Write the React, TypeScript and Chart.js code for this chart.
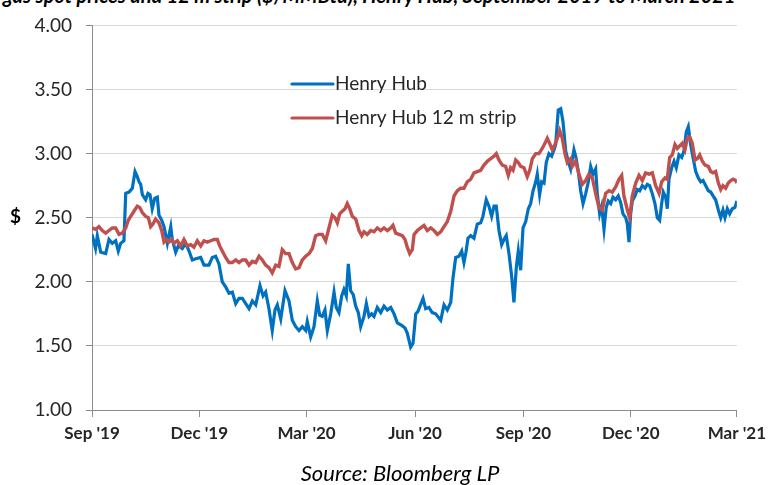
import React, { useEffect, useRef } from "react";
import { Chart, registerables } from "chart.js";

Chart.register(...registerables);

// ---- data (x = days since 1 Sep 2019) ----
const xTickDays = [0, 91, 182, 274, 366, 457, 547];
const xTickLabels = ["Sep '19", "Dec '19", "Mar '20", "Jun '20", "Sep '20", "Dec '20", "Mar '21"];
const yMin = 1.0;
const yMax = 4.0;
const yStep = 0.5;
const seriesNames = ["Henry Hub", "Henry Hub 12 m strip"];
const seriesColors = ["#0070C0", "#C0504D"];

const hubDays = [
  0, 3, 4.5, 7.4, 11.6, 14.4, 17.2, 20.1, 22.3, 24.3, 27.1, 28.6, 31.4, 34.2, 36.5, 38.4, 39.9, 41.3, 42.7, 45.5,
  47.5, 49.2, 51.1, 53.2, 55.4, 56.8, 59.1, 61.1, 63.9, 66.8, 68.1, 71, 73.2, 76.6, 79.5, 82.3, 85.1, 88, 92.2, 95,
  99.2, 102, 104.9, 107.7, 110.5, 113.4, 116.2, 119, 121.9, 124.7, 127.5, 130.4, 133.2, 136, 138.9, 142.5, 145.1,
  147.3, 150.1, 152.9, 155.2, 157.2, 160.1, 163.7, 167.1, 169.9, 172.8, 175.6, 178.4, 181.3, 182.6, 185.5, 188.3,
  191.1, 193.1, 195.3, 197.6, 199.6, 202.5, 205.3, 207.2, 209.5, 211.8, 213.7, 215.7, 217.4, 219.4, 221.6, 223.7,
  225.9, 227.9, 230.7, 232.7, 235, 237.2, 239.2, 242, 244.9, 247.7, 250.5, 253.4, 256.2, 259, 262.7, 265.5, 267.4,
  270.3, 272.3, 274.6, 276.5, 280.8, 283, 285.8, 288.6, 291.5, 295.8, 298.6, 301.4, 304.3, 306.2, 308.5, 311.3,
  313.6, 315.5, 317.2, 318.9, 321.2, 324, 326.8, 329.7, 331.6, 334.4, 336.7, 339, 341, 342.9, 345.2, 347.5, 349.4,
  351.4, 353.7, 356, 357.9, 359.9, 361.6, 363.6, 365.6, 367.9, 370.1, 372.1, 374.1, 376.4, 377.7, 379.7, 381.4,
  383.4, 385.3, 387.6, 389.9, 391.9, 393.3, 395.5, 397.6, 399.5, 401.8, 404, 406, 408.8, 410.5, 412.5, 414.5, 416.5,
  418.8, 421, 423, 425, 427.2, 428.6, 430.6, 432.3, 434.3, 436.2, 437.9, 440, 441.9, 444.2, 446.4, 448.4, 450.4,
  452.7, 454.1, 455.5, 456.9, 458.3, 460.6, 462.5, 464.6, 466.8, 469.1, 471, 473, 475.2, 477.5, 479.5, 481.5, 483.2,
  484.6, 486.6, 488, 489.4, 491.7, 493.7, 495.6, 497.9, 500.2, 502.1, 504.1, 505.8, 507.8, 509.8, 512.1, 514.3,
  516.3, 518.3, 520.6, 522.8, 524.8, 526.8, 529, 531.3, 533.3, 535.2, 536.9, 538.9, 540.9, 543.1, 545.4, 547,
];
const hubPrice = [
  2.37, 2.26, 2.36, 2.23, 2.22, 2.33, 2.3, 2.32, 2.24, 2.3, 2.32, 2.69, 2.7, 2.73, 2.86, 2.82, 2.78, 2.76, 2.68, 2.64,
  2.69, 2.68, 2.57, 2.65, 2.66, 2.52, 2.48, 2.43, 2.3, 2.43, 2.33, 2.23, 2.28, 2.26, 2.3, 2.24, 2.17, 2.18, 2.19, 2.13,
  2.13, 2.19, 2.2, 2.14, 2.0, 1.96, 1.91, 1.92, 1.83, 1.87, 1.87, 1.83, 1.79, 1.85, 1.82, 1.97, 1.89,
  1.92, 1.79, 1.62, 1.78, 1.82, 1.71, 1.93, 1.85, 1.7, 1.65, 1.62, 1.65, 1.62, 1.69, 1.57, 1.65,
  1.85, 1.74, 1.73, 1.78, 1.62, 1.75, 1.92, 1.8, 1.76, 1.89, 1.94, 1.89, 2.14, 1.93, 1.9, 1.81,
  1.76, 1.65, 1.73, 1.83, 1.73, 1.75, 1.73, 1.8, 1.76, 1.81, 1.78, 1.8, 1.75, 1.68, 1.66, 1.64, 1.6,
  1.49, 1.52, 1.75, 1.77, 1.87, 1.79, 1.8, 1.76, 1.75, 1.7, 1.82, 1.78, 1.84, 2.03, 2.19, 2.2,
  2.24, 2.15, 2.23, 2.34, 2.36, 2.34, 2.45, 2.46, 2.51, 2.64, 2.59, 2.51, 2.59, 2.59, 2.4, 2.29, 2.33,
  2.36, 2.22, 2.04, 1.84, 2.11, 2.24, 2.09, 2.42, 2.47, 2.57, 2.61, 2.71, 2.78, 2.84, 2.68, 2.78,
  2.77, 2.93, 3.0, 2.98, 3.03, 3.07, 3.34, 3.35, 3.25, 3.02, 2.94, 2.88, 3.03, 2.97, 2.86, 2.71, 2.61,
  2.69, 2.78, 2.9, 2.84, 2.88, 2.69, 2.53, 2.59, 2.41, 2.58, 2.63, 2.61, 2.66, 2.64, 2.67, 2.62, 2.53,
  2.5, 2.45, 2.31, 2.53, 2.63, 2.67, 2.72, 2.71, 2.75, 2.73, 2.76, 2.75, 2.69, 2.61, 2.5, 2.48, 2.61,
  2.7, 2.66, 2.57, 2.8, 2.89, 2.94, 2.89, 2.99, 2.97, 3.02, 3.17, 3.21, 3.07, 2.97, 2.86, 2.81,
  2.78, 2.79, 2.75, 2.71, 2.7, 2.67, 2.64, 2.56, 2.5, 2.56, 2.5, 2.57, 2.53, 2.57, 2.58, 2.63,
];

const stripDays = [
  0, 3.1, 5.9, 8.7, 11.6, 14.4, 17.2, 20.1, 22.9, 25.7, 28.6, 30.8, 32.8, 35.6, 38.4, 40.5, 42.7, 45.5, 47.8, 49.8,
  51.7, 54, 56.8, 59.1, 61.1, 63.4, 65.3, 67.6, 69.6, 72.4, 75.2, 78, 80.8, 83.7, 86.5, 89.3, 92.2, 95, 97.8, 100.7,
  103.5, 106.3, 108.3, 110.5, 113.4, 116.2, 119, 121.9, 124.7, 127.5, 130.4, 133.2, 136, 138.9, 141.7, 144.5, 147.3,
  150.1, 152.9, 155.8, 158.6, 161.4, 164.3, 167.1, 169.9, 172.8, 175.6, 178.4, 181.3, 184.1, 186.9, 189.7, 192.5,
  195.3, 198.2, 201, 203.8, 206.1, 208.1, 210.1, 212.3, 214.6, 216.5, 218.6, 220.8, 223.7, 226.5, 228.8, 230.7,
  233.5, 236.4, 239.2, 242, 244.9, 247.7, 250.5, 253.4, 255.3, 257.6, 260.4, 263.2, 265.5, 267.4, 269.5, 271.7,
  273.2, 276, 278.8, 281.6, 284.4, 287.3, 290.1, 292.9, 295.8, 298.6, 301.4, 304.3, 307.1, 309.9, 312.7, 315.5,
  318.3, 321.2, 324, 326.8, 329.7, 332.5, 335.3, 338.2, 341, 342.9, 345.2, 348, 350.9, 353.1, 355.1, 357.1, 359.4,
  361.6, 363.6, 366.4, 369.2, 371.3, 373.5, 376.4, 379.1, 381.9, 384.2, 386.2, 388.2, 390.4, 392.7, 394.7, 396.7,
  398.9, 401.2, 403.2, 406, 407.4, 410.2, 413, 415.9, 418.7, 421.5, 424.4, 427.2, 430, 432.8, 435.7, 438.5, 441.3,
  444.2, 447, 449.3, 451.2, 454.1, 456.1, 458.3, 461.2, 464, 466.8, 469.6, 472.5, 475.3, 478.1, 481, 483.2, 486,
  488, 490, 492.2, 494.5, 496.5, 498.5, 500.7, 503, 504.9, 507, 509.2, 511.5, 513.4, 515.5, 517.7, 520, 522.8,
  524.8, 526.8, 529, 531.3, 533.3, 535.2, 537.5, 539.7, 541.8, 543.8, 546.1, 547,
];
const stripPrice = [
  2.42, 2.41, 2.43, 2.4, 2.38, 2.4, 2.42, 2.42, 2.37, 2.38, 2.42, 2.48, 2.51, 2.55, 2.59, 2.58, 2.54, 2.51, 2.5, 2.43,
  2.45, 2.49, 2.46, 2.4, 2.31, 2.33, 2.31, 2.33, 2.3, 2.32, 2.28, 2.33, 2.28, 2.29, 2.27, 2.32, 2.28, 2.32, 2.31, 2.32,
  2.33, 2.33, 2.28, 2.24, 2.19, 2.15, 2.15, 2.17, 2.15, 2.17, 2.17, 2.13, 2.16, 2.15, 2.2, 2.17, 2.13,
  2.11, 2.07, 2.13, 2.12, 2.25, 2.22, 2.22, 2.15, 2.1, 2.11, 2.17, 2.2, 2.22, 2.26, 2.36, 2.37,
  2.37, 2.32, 2.42, 2.52, 2.5, 2.46, 2.53, 2.55, 2.57, 2.61, 2.57, 2.51, 2.49, 2.4, 2.36, 2.39,
  2.37, 2.4, 2.39, 2.42, 2.4, 2.42, 2.4, 2.42, 2.44, 2.38, 2.37, 2.36, 2.33, 2.27, 2.22, 2.25,
  2.37, 2.4, 2.42, 2.44, 2.4, 2.42, 2.4, 2.37, 2.39, 2.43, 2.47, 2.55, 2.67, 2.71, 2.73, 2.73,
  2.78, 2.8, 2.85, 2.86, 2.87, 2.91, 2.94, 2.96, 2.98, 3.0, 2.95, 2.91, 2.9, 2.83, 2.89, 2.87, 2.95,
  2.93, 2.9, 2.89, 2.82, 2.87, 2.96, 3.0, 3.0, 3.04, 3.08, 3.12, 3.08, 3.03, 3.07, 3.12, 3.18,
  3.12, 3.0, 2.93, 2.96, 2.9, 2.94, 2.84, 2.76, 2.79, 2.84, 2.81, 2.69, 2.58, 2.56, 2.69, 2.71, 2.7,
  2.74, 2.8, 2.83, 2.67, 2.56, 2.5, 2.67, 2.77, 2.83, 2.79, 2.85, 2.84, 2.85, 2.75, 2.69, 2.78, 2.81,
  2.8, 2.97, 2.99, 3.07, 3.04, 3.06, 3.08, 3.03, 3.12, 3.13, 3.08, 2.95, 2.96, 2.99, 2.94, 2.91, 2.9,
  2.86, 2.85, 2.86, 2.77, 2.72, 2.75, 2.73, 2.77, 2.79, 2.8, 2.79, 2.77,
];

const FONT = "Lato, 'Open Sans', 'DejaVu Sans', sans-serif";

const legendPlugin = {
  id: "insideLegend",
  afterDatasetsDraw(chart: any) {
    const ctx = chart.ctx;
    const items = [
      { x0: 292, x1: 333, y: 84 },
      { x0: 292, x1: 333, y: 118 },
    ];
    ctx.save();
    chart.data.datasets.forEach((ds: any, i: number) => {
      const it = items[i];
      ctx.strokeStyle = ds.borderColor;
      ctx.lineWidth = 3.2;
      ctx.lineCap = "round";
      ctx.beginPath();
      ctx.moveTo(it.x0, it.y);
      ctx.lineTo(it.x1, it.y);
      ctx.stroke();
      ctx.fillStyle = "#262626";
      ctx.font = `19px ${FONT}`;
      ctx.textBaseline = "middle";
      ctx.textAlign = "left";
      ctx.fillText(ds.label, it.x1 + 2, it.y);
    });
    ctx.restore();
  },
};

function ChartView() {
  const ref = useRef<HTMLCanvasElement | null>(null);
  useEffect(() => {
    if (!ref.current) return;
    const hub = hubDays.map((d, i) => ({ x: d, y: hubPrice[i] }));
    const strip = stripDays.map((d, i) => ({ x: d, y: stripPrice[i] }));
    const chart = new Chart(ref.current, {
      type: "line",
      data: {
        datasets: [
          {
            label: seriesNames[0],
            data: hub,
            borderColor: seriesColors[0],
            borderWidth: 3.2,
            pointRadius: 0,
            tension: 0,
            order: 1,
          },
          {
            label: seriesNames[1],
            data: strip,
            borderColor: seriesColors[1],
            borderWidth: 3.4,
            pointRadius: 0,
            tension: 0,
            order: 0,
          },
        ],
      },
      options: {
        animation: false,
        responsive: false,
        maintainAspectRatio: false,
        layout: { padding: { left: 0, right: 34, top: 23, bottom: 34 } },
        plugins: { legend: { display: false }, tooltip: { enabled: false }, title: { display: false } },
        scales: {
          x: {
            type: "linear",
            min: xTickDays[0],
            max: xTickDays[xTickDays.length - 1],
            afterBuildTicks: (scale: any) => {
              scale.ticks = xTickDays.map((v) => ({ value: v }));
            },
            afterFit: (scale: any) => {
              scale.height = 41;
            },
            ticks: {
              autoSkip: false,
              maxRotation: 0,
              padding: 6,
              color: "#262626",
              font: { family: FONT, size: 17, weight: "bold" },
              callback: (v: any) => {
                const idx = xTickDays.indexOf(Number(v));
                return idx >= 0 ? xTickLabels[idx] : "";
              },
            },
            grid: {
              drawOnChartArea: false,
              drawTicks: true,
              tickLength: 7,
              color: "#8c8c8c",
              lineWidth: 1,
            },
            border: { display: true, color: "#8c8c8c", width: 1 },
          },
          y: {
            min: yMin,
            max: yMax,
            afterFit: (scale: any) => {
              scale.width = 92;
            },
            ticks: {
              stepSize: yStep,
              padding: 14,
              color: "#262626",
              font: { family: FONT, size: 19 },
              callback: (v: any) => Number(v).toFixed(2),
            },
            grid: {
              color: "#d9d9d9",
              lineWidth: 1,
              tickLength: 6,
              tickColor: "#8c8c8c",
              drawTicks: true,
            },
            border: { display: true, color: "#8c8c8c", width: 1 },
          },
        },
      },
      plugins: [legendPlugin],
    });
    return () => chart.destroy();
  }, []);
  return <canvas ref={ref} width={772} height={485} style={{ position: "absolute", left: 0, top: 0 }} />;
}

export default function App() {
  useEffect(() => {
    document.body.style.margin = "0";
  }, []);
  return (
    <div
      style={{
        position: "relative",
        width: 772,
        height: 485,
        overflow: "hidden",
        background: "#fff",
        fontFamily: FONT,
      }}
    >
      <div
        style={{
          position: "absolute",
          top: -17,
          left: -66,
          whiteSpace: "nowrap",
          fontWeight: "bold",
          fontStyle: "italic",
          fontSize: 20,
          color: "#000",
        }}
      >
        Natural gas spot prices and 12 m strip ($/MMBtu), Henry Hub, September 2019 to March 2021
      </div>
      <ChartView />
      <div
        style={{
          position: "absolute",
          left: 10,
          top: 204,
          fontWeight: "bold",
          fontSize: 19,
          color: "#000",
        }}
      >
        $
      </div>
      <div
        style={{
          position: "absolute",
          left: 0,
          width: 800,
          top: 459,
          textAlign: "center",
          fontStyle: "italic",
          fontSize: 22,
          color: "#000",
        }}
      >
        Source: Bloomberg LP
      </div>
    </div>
  );
}
